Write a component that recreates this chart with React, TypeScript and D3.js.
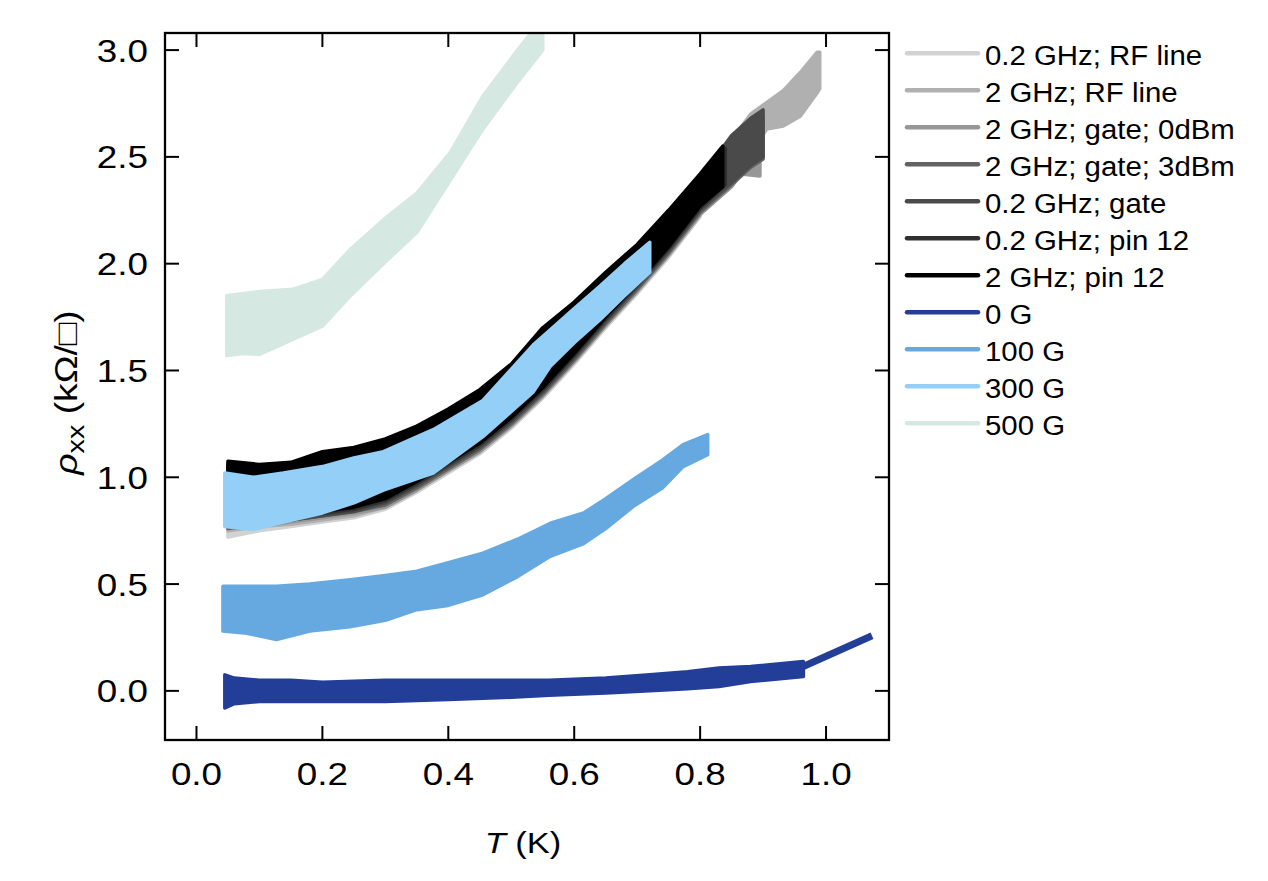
import * as d3 from 'd3';

// Each series is a noisy band: [T (K), low, high] in kOhm/sq
type Row = [number, number, number];

const rf02: Row[] = [
  [0.05, 0.72, 0.98], [0.1, 0.75, 0.97], [0.15, 0.77, 0.98], [0.2, 0.79, 1.0], [0.25, 0.81, 1.03],
  [0.3, 0.85, 1.07], [0.35, 0.93, 1.13], [0.4, 1.02, 1.21], [0.45, 1.11, 1.3], [0.5, 1.23, 1.42],
  [0.55, 1.37, 1.57], [0.6, 1.53, 1.71], [0.65, 1.7, 1.85], [0.7, 1.86, 1.98], [0.75, 2.03, 2.14],
  [0.8, 2.22, 2.32],
];
const rf2: Row[] = [
  [0.05, 0.75, 1.0], [0.1, 0.77, 0.99], [0.15, 0.78, 1.0], [0.2, 0.8, 1.04], [0.25, 0.82, 1.06],
  [0.3, 0.86, 1.1], [0.35, 0.94, 1.16], [0.4, 1.03, 1.24], [0.45, 1.12, 1.33], [0.5, 1.24, 1.45],
  [0.55, 1.38, 1.6], [0.6, 1.54, 1.74], [0.65, 1.71, 1.88], [0.7, 1.87, 2.01], [0.75, 2.04, 2.17],
  [0.8, 2.23, 2.35], [0.85, 2.4, 2.58], [0.88, 2.52, 2.7], [0.906, 2.63, 2.755], [0.932, 2.645, 2.81],
  [0.959, 2.69, 2.895], [0.986, 2.8, 2.99], [0.99, 2.82, 2.99],
];
const gate0: Row[] = [
  [0.05, 0.76, 1.02], [0.1, 0.77, 1.01], [0.15, 0.79, 1.02], [0.2, 0.81, 1.06], [0.25, 0.83, 1.08],
  [0.3, 0.86, 1.12], [0.35, 0.94, 1.18], [0.4, 1.03, 1.26], [0.45, 1.12, 1.35], [0.5, 1.24, 1.47],
  [0.55, 1.38, 1.63], [0.6, 1.54, 1.76], [0.65, 1.71, 1.9], [0.7, 1.87, 2.03], [0.75, 2.04, 2.19],
  [0.8, 2.23, 2.37], [0.85, 2.36, 2.55], [0.865, 2.42, 2.58], [0.895, 2.41, 2.62],
];
const gate3: Row[] = [
  [0.05, 0.76, 1.04], [0.1, 0.78, 1.03], [0.15, 0.8, 1.04], [0.2, 0.82, 1.08], [0.25, 0.84, 1.1],
  [0.3, 0.87, 1.14], [0.35, 0.95, 1.2], [0.4, 1.04, 1.28], [0.45, 1.13, 1.37], [0.5, 1.25, 1.49],
  [0.55, 1.39, 1.65], [0.6, 1.55, 1.78], [0.65, 1.72, 1.92], [0.7, 1.88, 2.05], [0.75, 2.05, 2.21],
  [0.8, 2.24, 2.39], [0.85, 2.37, 2.58], [0.88, 2.45, 2.66], [0.9, 2.49, 2.69],
];
const gate02: Row[] = [
  [0.05, 0.77, 1.05], [0.1, 0.79, 1.04], [0.15, 0.8, 1.05], [0.2, 0.82, 1.09], [0.25, 0.84, 1.11],
  [0.3, 0.88, 1.15], [0.35, 0.96, 1.21], [0.4, 1.05, 1.29], [0.45, 1.14, 1.38], [0.5, 1.26, 1.5],
  [0.55, 1.4, 1.66], [0.6, 1.56, 1.79], [0.65, 1.73, 1.93], [0.7, 1.89, 2.06], [0.75, 2.06, 2.22],
  [0.8, 2.25, 2.4], [0.85, 2.38, 2.6], [0.88, 2.46, 2.68], [0.9, 2.5, 2.72],
];
const pin02: Row[] = [
  [0.05, 0.78, 1.06], [0.1, 0.79, 1.05], [0.15, 0.81, 1.06], [0.2, 0.83, 1.1], [0.25, 0.85, 1.12],
  [0.3, 0.89, 1.16], [0.35, 0.97, 1.22], [0.4, 1.06, 1.3], [0.45, 1.15, 1.39], [0.5, 1.27, 1.51],
  [0.55, 1.41, 1.67], [0.6, 1.57, 1.8], [0.65, 1.74, 1.94], [0.7, 1.9, 2.07], [0.75, 2.07, 2.23],
  [0.8, 2.26, 2.4], [0.84, 2.37, 2.54],
];
const pin2: Row[] = [
  [0.05, 0.78, 1.075], [0.1, 0.8, 1.06], [0.15, 0.82, 1.07], [0.2, 0.84, 1.12], [0.25, 0.86, 1.14],
  [0.3, 0.9, 1.18], [0.35, 0.98, 1.24], [0.4, 1.07, 1.32], [0.45, 1.16, 1.41], [0.5, 1.28, 1.53],
  [0.55, 1.42, 1.7], [0.6, 1.58, 1.82], [0.65, 1.75, 1.96], [0.7, 1.91, 2.09], [0.75, 2.08, 2.25],
  [0.8, 2.27, 2.42], [0.836, 2.36, 2.55],
];
const field0: Row[] = [
  [0.045, -0.08, 0.075], [0.06, -0.06, 0.06], [0.1, -0.05, 0.05], [0.15, -0.05, 0.05], [0.2, -0.05, 0.04],
  [0.3, -0.05, 0.05], [0.4, -0.04, 0.05], [0.5, -0.03, 0.05], [0.56, -0.02, 0.05], [0.65, -0.01, 0.06],
  [0.72, 0.0, 0.075], [0.78, 0.01, 0.09], [0.83, 0.02, 0.107], [0.88, 0.044, 0.114], [0.964, 0.067, 0.137],
];
// straight segment that continues the 0 G trace
const field0Tail: [number, number][] = [[0.962, 0.112], [1.073, 0.258]];
const field100: Row[] = [
  [0.042, 0.28, 0.49], [0.08, 0.27, 0.49], [0.127, 0.24, 0.49], [0.18, 0.28, 0.5], [0.244, 0.3, 0.52],
  [0.3, 0.33, 0.54], [0.35, 0.38, 0.56], [0.4, 0.4, 0.6], [0.455, 0.45, 0.645], [0.51, 0.535, 0.71],
  [0.562, 0.63, 0.785], [0.615, 0.69, 0.833], [0.65, 0.76, 0.9], [0.694, 0.864, 0.99], [0.74, 0.95, 1.08],
  [0.773, 1.05, 1.153], [0.812, 1.106, 1.2],
];
const field300: Row[] = [
  [0.045, 0.77, 1.02], [0.09, 0.755, 1.0], [0.138, 0.79, 1.02], [0.2, 0.833, 1.05], [0.25, 0.88, 1.09],
  [0.297, 0.94, 1.12], [0.376, 1.02, 1.223], [0.455, 1.19, 1.36], [0.535, 1.4, 1.62], [0.562, 1.52, 1.69],
  [0.6, 1.63, 1.79], [0.641, 1.738, 1.895], [0.68, 1.85, 2.0], [0.72, 1.96, 2.1],
];
const field500: Row[] = [
  [0.048, 1.57, 1.85], [0.075, 1.58, 1.86], [0.1, 1.575, 1.87], [0.153, 1.645, 1.88], [0.2, 1.707, 1.926],
  [0.244, 1.848, 2.066], [0.297, 2.0, 2.206], [0.35, 2.146, 2.33], [0.403, 2.39, 2.52], [0.455, 2.63, 2.785],
  [0.51, 2.85, 3.0], [0.55, 3.0, 3.15],
];

const labels = [
  '0.2 GHz; RF line', '2 GHz; RF line', '2 GHz; gate; 0dBm', '2 GHz; gate; 3dBm', '0.2 GHz; gate',
  '0.2 GHz; pin 12', '2 GHz; pin 12', '0 G', '100 G', '300 G', '500 G',
];
const colors = [
  '#d2d2d2', '#b0b0b0', '#979797', '#636363', '#4a4a4a', '#303030', '#000000',
  '#233e98', '#66a9e0', '#93cff6', '#d5e8e2',
];
const series = [rf02, rf2, gate0, gate3, gate02, pin02, pin2, field0, field100, field300, field500];

const xTicks = [0, 0.2, 0.4, 0.6, 0.8, 1.0];
const yTicks = [0, 0.5, 1.0, 1.5, 2.0, 2.5, 3.0];

const W = 1268;
const H = 881;
const left = 165, right = 889, top = 33, bottom = 740;
const font = '"Liberation Sans", Arial, Helvetica, sans-serif';
const stretch = 1.15;

export default function App() {
  const x = d3.scaleLinear().domain([-0.05, 1.1]).range([left, right]);
  const y = d3.scaleLinear().domain([-0.23, 3.08]).range([bottom, top]);

  const band = d3.area<Row>()
    .x((d) => x(d[0]))
    .y0((d) => y(d[1]))
    .y1((d) => y(d[2]));
  const line = d3.line<[number, number]>().x((d) => x(d[0])).y((d) => y(d[1]));

  const tickLen = 14;

  return (
    <svg width={W} height={H} style={{ position: 'absolute', left: 0, top: 0, display: 'block', background: '#fff' }}
      fontFamily={font}>
      <defs>
        <clipPath id="plot">
          <rect x={left} y={top} width={right - left} height={bottom - top} />
        </clipPath>
      </defs>

      <g clipPath="url(#plot)">
        {series.map((s, i) => (
          <path key={labels[i]} d={band(s) ?? ''} fill={colors[i]} stroke={colors[i]}
            strokeWidth={3.5} strokeLinejoin="round" />
        ))}
        <path d={line(field0Tail) ?? ''} fill="none" stroke={colors[7]} strokeWidth={7} />
      </g>

      {/* ticks, inward on all four sides */}
      <g stroke="#000" strokeWidth={2}>
        {xTicks.map((t) => (
          <g key={`xt${t}`}>
            <line x1={x(t)} x2={x(t)} y1={bottom} y2={bottom - tickLen} />
            <line x1={x(t)} x2={x(t)} y1={top} y2={top + tickLen} />
          </g>
        ))}
        {yTicks.map((t) => (
          <g key={`yt${t}`}>
            <line x1={left} x2={left + tickLen} y1={y(t)} y2={y(t)} />
            <line x1={right} x2={right - tickLen} y1={y(t)} y2={y(t)} />
          </g>
        ))}
      </g>
      <rect x={left} y={top} width={right - left} height={bottom - top} fill="none" stroke="#000" strokeWidth={2.3} />

      {/* tick labels */}
      <g fontSize={32} fill="#000">
        {xTicks.map((t) => (
          <text key={`xl${t}`} textAnchor="middle" transform={`translate(${x(t)},${bottom + 45}) scale(${stretch},1)`}>
            {d3.format('.1f')(t)}
          </text>
        ))}
        {yTicks.map((t) => (
          <text key={`yl${t}`} textAnchor="end" transform={`translate(${left - 17},${y(t) + 11.5}) scale(${stretch},1)`}>
            {d3.format('.1f')(t)}
          </text>
        ))}
      </g>

      {/* axis titles */}
      <text fontSize={30} textAnchor="middle" transform={`translate(${(left + right) / 2 - 4},${bottom + 113}) scale(${stretch},1)`}>
        <tspan fontStyle="italic">T</tspan> (K)
      </text>
      <text fontSize={31} textAnchor="middle" transform={`translate(77,${(top + bottom) / 2 + 6}) rotate(-90) scale(1.2,1)`}>
        <tspan fontStyle="italic">ρ</tspan>
        <tspan fontSize={24} dy={7}>xx</tspan>
        <tspan dy={-7}> (kΩ/□)</tspan>
      </text>

      {/* legend */}
      <g>
        {labels.map((lab, i) => {
          const ly = 53.3 + i * 37;
          return (
            <g key={`lg${lab}`}>
              <line x1={907} x2={978} y1={ly} y2={ly} stroke={colors[i]} strokeWidth={4.5} strokeLinecap="round" />
              <text fontSize={28} transform={`translate(985,${ly + 11.5}) scale(1.05,1)`}>{lab}</text>
            </g>
          );
        })}
      </g>
    </svg>
  );
}
